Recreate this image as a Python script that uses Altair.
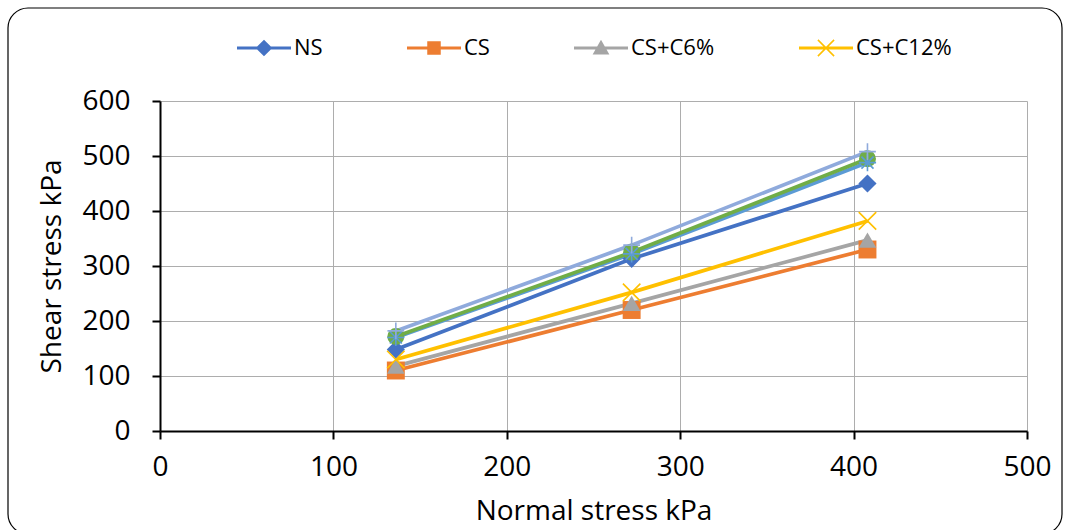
import altair as alt
import pandas as pd

# ---- data ----
normal_stress = [136, 272, 408]
series_names = ["NS", "CS", "CS+C6%", "CS+C12%", "Series 5", "Series 6", "Series 7"]
ns = [148, 313, 450]
cs = [110, 220, 330]
cs_c6 = [118, 232, 347]
cs_c12 = [130, 252, 382]
s5 = [170, 322, 488]
s6 = [172, 325, 495]
s7 = [182, 338, 508]
colors = ["#4472C4", "#ED7D31", "#A5A5A5", "#FFC000", "#5B9BD5", "#70AD47", "#8FAADC"]
x_ticks = [0, 100, 200, 300, 400, 500]
y_ticks = [0, 100, 200, 300, 400, 500, 600]
legend_names = ["NS", "CS", "CS+C6%", "CS+C12%"]

rows = []
for name, vals in zip(series_names, [ns, cs, cs_c6, cs_c12, s5, s6, s7]):
    for x, y in zip(normal_stress, vals):
        rows.append({"series": name, "normal": x, "shear": y})
df = pd.DataFrame(rows)

# marker shapes
X_PATH = "M-1,-1L1,1M-1,1L1,-1"
STAR_PATH = "M-1,0L1,0M0,-1L0,1M-0.7,-0.7L0.7,0.7M-0.7,0.7L0.7,-0.7"
PLUS_PATH = "M-1,0L1,0M0,-1L0,1"
shapes = ["diamond", "square", "triangle-up", X_PATH, STAR_PATH, "circle", PLUS_PATH]
sizes = [330, 280, 320, 330, 400, 380, 520]

# legend symbols: line with marker (filled paths, clockwise)
LINE = "M-1,-0.06L1,-0.06L1,0.06L-1,0.06Z"
leg_paths = [
    LINE + "M0,-0.31L0.31,0L0,0.31L-0.31,0Z",
    LINE + "M-0.25,-0.25L0.25,-0.25L0.25,0.25L-0.25,0.25Z",
    LINE + "M0,-0.31L0.31,0.24L-0.31,0.24Z",
    LINE + "M-0.32,-0.28L-0.28,-0.32L0.32,0.28L0.28,0.32Z"
    + "M-0.32,0.28L0.28,-0.32L0.32,-0.28L-0.28,0.32Z",
]

xenc = alt.X("normal:Q", scale=alt.Scale(domain=[0, 500], nice=False),
             axis=alt.Axis(values=x_ticks, title="Normal stress kPa", labelFlush=False,
                           labelPadding=14, titlePadding=16))
yenc = alt.Y("shear:Q", scale=alt.Scale(domain=[0, 600], nice=False),
             axis=alt.Axis(values=y_ticks, title="Shear stress kPa", labelPadding=22,
                           titlePadding=15))

color_all = alt.Color("series:N", scale=alt.Scale(domain=series_names, range=colors), legend=None)
shape_all = alt.Shape("series:N", scale=alt.Scale(domain=series_names, range=shapes), legend=None)
size_all = alt.Size("series:N", scale=alt.Scale(domain=series_names, range=sizes), legend=None)

lines = alt.Chart(df).mark_line(strokeWidth=3.7).encode(
    x=xenc, y=yenc, color=color_all, order="normal:Q"
)

filled_pts = alt.Chart(df).transform_filter(
    alt.FieldOneOfPredicate(field="series", oneOf=["NS", "CS", "CS+C6%", "Series 6"])
).mark_point(filled=True, opacity=1).encode(
    x=xenc, y=yenc, color=color_all, shape=shape_all, size=size_all
)

stroked_pts = alt.Chart(df).transform_filter(
    alt.FieldOneOfPredicate(field="series", oneOf=["CS+C12%", "Series 5", "Series 7"])
).mark_point(filled=False, strokeWidth=1.6, opacity=1).encode(
    x=xenc, y=yenc, color=color_all, shape=shape_all, size=size_all
)

leg = alt.Legend(
    title=None, orient="none", legendX=77, legendY=-80, direction="horizontal",
    symbolSize=2916, symbolStrokeWidth=0, symbolOpacity=1,
    labelFont="Open Sans", labelFontSize=22, labelColor="black", labelOffset=3,
    columnPadding=84,
)
legend_layer = alt.Chart(df).transform_filter(
    alt.FieldOneOfPredicate(field="series", oneOf=legend_names)
).mark_point(filled=True, opacity=0).encode(
    x=xenc, y=yenc,
    color=alt.Color("series:N", scale=alt.Scale(domain=legend_names, range=colors[:4]), legend=leg),
    shape=alt.Shape("series:N", scale=alt.Scale(domain=legend_names, range=leg_paths), legend=leg),
)

border = alt.Chart(pd.DataFrame({"a": [0]})).mark_rect(
    filled=False, stroke="black", strokeWidth=1.2, cornerRadius=20
).encode(
    x=alt.value(-152), x2=alt.value(902), y=alt.value(-93), y2=alt.value(433)
)

chart = alt.layer(border, lines, filled_pts, stroked_pts, legend_layer).resolve_scale(
    color="independent", shape="independent", size="independent"
).properties(
    width=867, height=330,
    autosize=alt.AutoSizeParams(type="none"),
    padding={"left": 160, "top": 101, "right": 43, "bottom": 99},
    background="white",
).configure_axis(
    labelFont="Open Sans", titleFont="Open Sans", labelFontSize=28, titleFontSize=28,
    titleFontWeight="normal", labelColor="black", titleColor="black",
    domainColor="black", domainWidth=2, tickColor="black", tickWidth=2, tickSize=8,
    gridColor="#adadad", gridWidth=1,
).configure_view(stroke="transparent")

chart.save("out.html", embed_options={"renderer": "svg", "actions": False})
